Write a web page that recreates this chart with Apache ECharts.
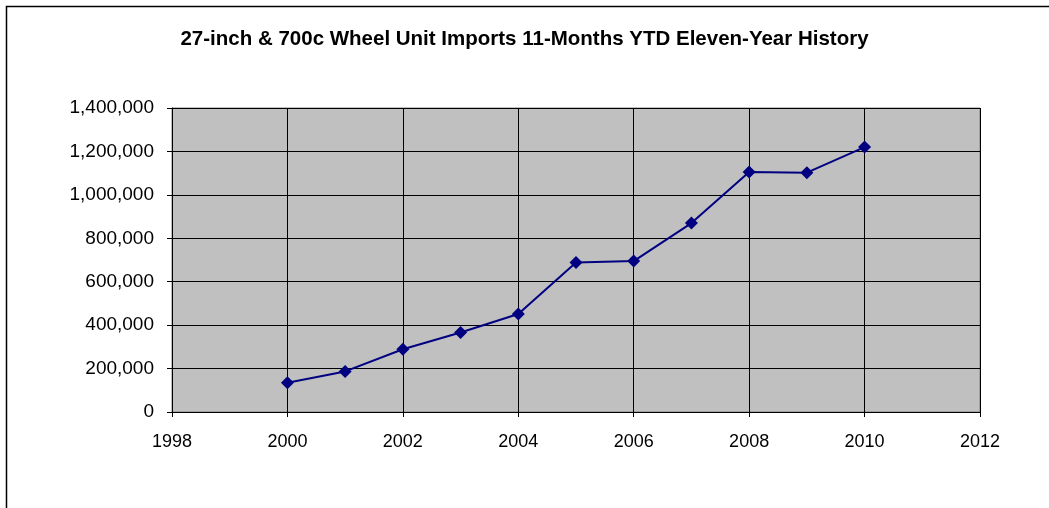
<!DOCTYPE html>
<html>
<head>
<meta charset="utf-8">
<style>
  html, body { margin: 0; padding: 0; background: #fff; }
  #chart { width: 1049px; height: 508px; }
</style>
<script src="https://cdn.jsdelivr.net/npm/echarts@6/dist/echarts.min.js"></script>
</head>
<body>
<div id="chart"></div>
<script>
// data
var years = [2000, 2001, 2002, 2003, 2004, 2005, 2006, 2007, 2008, 2009, 2010];
var imports = [135000, 187000, 289000, 366000, 451000, 688000, 695000, 870000, 1105000, 1102000, 1220000];

var title = "27-inch & 700c Wheel Unit Imports 11-Months YTD Eleven-Year History";

var chart = echarts.init(document.getElementById("chart"));

chart.setOption({
  animation: false,
  backgroundColor: "#fff",
  title: {
    text: title,
    left: "center",
    top: 24,
    textStyle: {
      fontFamily: "Liberation Sans, Arial, sans-serif",
      fontWeight: "bold",
      fontSize: 20.5,
      color: "#000"
    }
  },
  graphic: [
    {
      type: "rect",
      shape: { x: 6.5, y: 6.5, width: 1100, height: 600 },
      style: { fill: "none", stroke: "#000", lineWidth: 1.5 },
      silent: true
    }
  ],
  grid: {
    left: 172,
    right: 69,
    top: 108,
    bottom: 96,
    show: true,
    backgroundColor: "#c0c0c0",
    borderColor: "#808080",
    borderWidth: 1
  },
  xAxis: {
    type: "value",
    min: 1998,
    max: 2012,
    interval: 2,
    axisLine: { show: true, lineStyle: { color: "#000", width: 1 } },
    axisTick: { show: true, inside: false, length: 5, lineStyle: { color: "#000" } },
    axisLabel: {
      margin: 21,
      color: "#000",
      fontSize: 18,
      fontFamily: "Liberation Sans, Arial, sans-serif",
      formatter: function (v) { return String(v); }
    },
    splitLine: { show: true, lineStyle: { color: "#000", width: 1 } }
  },
  yAxis: {
    type: "value",
    min: 0,
    max: 1400000,
    interval: 200000,
    axisLine: { show: true, lineStyle: { color: "#000", width: 1 } },
    axisTick: { show: true, inside: false, length: 5, lineStyle: { color: "#000" } },
    axisLabel: {
      margin: 18,
      color: "#000",
      fontSize: 19,
      fontFamily: "Liberation Sans, Arial, sans-serif",
      formatter: function (v) { return v.toLocaleString("en-US"); }
    },
    splitLine: { show: true, lineStyle: { color: "#000", width: 1 } }
  },
  series: [
    {
      type: "line",
      data: years.map(function (y, i) { return [y, imports[i]]; }),
      symbol: "diamond",
      symbolSize: 13,
      itemStyle: { color: "#000080" },
      lineStyle: { color: "#000080", width: 2 }
    }
  ]
});
</script>
</body>
</html>
